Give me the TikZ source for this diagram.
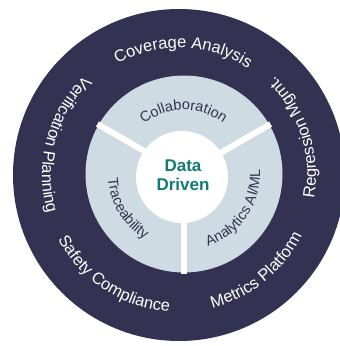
\documentclass[tikz,border=0pt]{standalone}
\usepackage{fontspec}
\setmainfont{Liberation Sans}
\usetikzlibrary{decorations.text}
\definecolor{ringnavy}{RGB}{51,50,82}
\definecolor{ringlight}{RGB}{206,219,226}
\definecolor{hubteal}{RGB}{18,122,120}
\newcommand{\outerfont}{\fontsize{16.5}{18}\selectfont}
\newcommand{\innerfont}{\fontsize{14.5}{16}\selectfont}

\begin{document}
\begin{tikzpicture}[x=1pt,y=1pt,
    outer label/.style={decorate, decoration={text along path, text align=center,
        text color=white, text={|\outerfont|#1}}},
    inner label/.style={decorate, decoration={text along path, text align=center,
        text color=ringnavy, text={|\innerfont|#1}}}]
    \useasboundingbox (0,0) rectangle (340,346);
    \coordinate (outerc) at (179,171);
    \coordinate (innerc) at (184,172);
    \coordinate (hubc) at (182,169);
    % Rings
    \fill[ringnavy] (outerc) circle (166);
    \fill[ringlight] (innerc) circle (98.5);
    \foreach \a in {30,150,270} {
        \draw[white, line width=6] (innerc) -- ++(\a:100);
    }
    \fill[white] (hubc) circle (46);
    % Outer ring labels
    \path[outer label=Coverage Analysis] ([shift={(148:127)}]outerc) arc[start angle=148, end angle=28, radius=127];
    \path[outer label=Verification Planning] ([shift={(105:137)}]outerc) arc[start angle=105, end angle=225, radius=137];
    \path[outer label=Safety Compliance] ([shift={(177:137)}]outerc) arc[start angle=177, end angle=297, radius=137];
    \path[outer label=Metrics Platform] ([shift={(249:137)}]outerc) arc[start angle=249, end angle=369, radius=137];
    \path[outer label=Regression Mgmt.] ([shift={(-42:137)}]outerc) arc[start angle=-42, end angle=78, radius=137];
    % Inner ring labels
    \path[inner label=Collaboration] ([shift={(150.5:64)}]innerc) arc[start angle=150.5, end angle=30.5, radius=64];
    \path[inner label=Traceability] ([shift={(151:76)}]innerc) arc[start angle=151, end angle=271, radius=76];
    \path[inner label=Analytics AI/ML] ([shift={(266:76)}]innerc) arc[start angle=266, end angle=386, radius=76];
    % Hub
    \node[hubteal, font=\fontsize{17}{19}\selectfont\bfseries, align=center] (hub) at (183,171) {Data\\Driven};
\end{tikzpicture}
\end{document}
